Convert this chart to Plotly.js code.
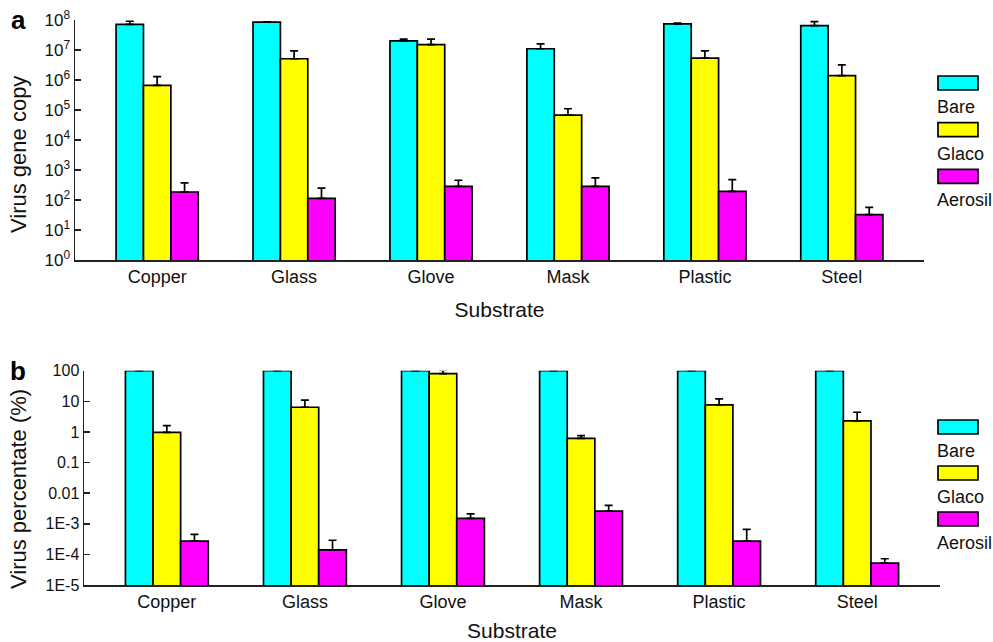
<!DOCTYPE html>
<html>
<head>
<meta charset="utf-8">
<script src="https://cdn.plot.ly/plotly-3.0.1.min.js"></script>
<style>html,body{margin:0;padding:0;background:#fff;}#chart{width:993px;height:642px;}</style>
</head>
<body>
<div id="chart"></div>
<script>
// ---- data ----
const substrates = ["Copper", "Glass", "Glove", "Mask", "Plastic", "Steel"];
const seriesNames = ["Bare", "Glaco", "Aerosil"];
const seriesColors = ["#00ffff", "#ffff00", "#ff00ff"];

// Panel a: virus gene copy
const copyBare      = [7.2e7, 8.5e7, 2.0e7, 1.1e7, 7.4e7, 6.5e7];
const copyBareErr   = [1.9e7, 2.0e6, 3.0e6, 5.0e6, 5.0e6, 2.3e7];
const copyGlaco     = [6.6e5, 5.1e6, 1.5e7, 6.7e4, 5.4e6, 1.4e6];
const copyGlacoErr  = [6.4e5, 4.2e6, 8.0e6, 4.3e4, 3.9e6, 1.8e6];
const copyAerosil   = [185, 114, 286, 286, 195, 32.5];
const copyAerosilErr= [185, 136, 169, 264, 280, 24.5];

// Panel b: virus percentage (%)
const pctBare       = [100, 100, 100, 100, 100, 100];
const pctBareErr    = [0, 0, 0, 0, 0, 0];
const pctGlaco      = [0.97, 6.4, 80, 0.62, 7.6, 2.3];
const pctGlacoErr   = [0.63, 4.6, 25, 0.14, 4.4, 2.1];
const pctAerosil    = [2.7e-4, 1.4e-4, 1.5e-3, 2.6e-3, 2.7e-4, 5.2e-5];
const pctAerosilErr = [1.8e-4, 1.5e-4, 6.0e-4, 1.4e-3, 3.9e-4, 2.0e-5];

// tick labels
const topTickVals = [1, 10, 100, 1e3, 1e4, 1e5, 1e6, 1e7, 1e8];
const topTickText = ["10<sup>0</sup>","10<sup>1</sup>","10<sup>2</sup>","10<sup>3</sup>","10<sup>4</sup>","10<sup>5</sup>","10<sup>6</sup>","10<sup>7</sup>","10<sup>8</sup>"];
const botTickVals = [1e-5, 1e-4, 1e-3, 0.01, 0.1, 1, 10, 100];
const botTickText = ["1E-5", "1E-4", "1E-3", "0.01", "0.1", "1", "10", "100"];

const xTitle = "Substrate";
const yTitleTop = "Virus gene copy";
const yTitleBot = "Virus percentate (%)";

// ---- build ----
const FONT = "Liberation Sans, Arial, sans-serif";
const W = 993, H = 642;
const px = v => v / W, py = v => 1 - v / H;

function mk(name, color, y, err, xa, ya) {
  return {
    type: "bar", name: name, x: substrates, y: y, xaxis: xa, yaxis: ya,
    marker: {color: color, line: {color: "#000", width: 1.7}},
    error_y: {type: "data", symmetric: false, array: err, arrayminus: err.map(() => 0),
              visible: true, color: "#000", thickness: 1.7, width: 4},
    showlegend: false, hoverinfo: "x+y"
  };
}

const topY = [copyBare, copyGlaco, copyAerosil];
const topE = [copyBareErr, copyGlacoErr, copyAerosilErr];
const botY = [pctBare, pctGlaco, pctAerosil];
const botE = [pctBareErr, pctGlacoErr, pctAerosilErr];

const data = [];
for (let i = 0; i < 3; i++) data.push(mk(seriesNames[i], seriesColors[i], topY[i], topE[i], "x", "y"));
for (let i = 0; i < 3; i++) data.push(mk(seriesNames[i], seriesColors[i], botY[i], botE[i], "x2", "y2"));

const axisCommon = {showgrid: false, zeroline: false, showline: true, linecolor: "#222", linewidth: 1.5};

const shapes = [], annotations = [];
function legendBlock(topBox, spacing) {
  for (let i = 0; i < 3; i++) {
    const y0 = topBox + i * spacing;
    shapes.push({type: "rect", xref: "paper", yref: "paper",
      x0: px(938), x1: px(978), y0: py(y0 + 14), y1: py(y0),
      fillcolor: seriesColors[i], line: {color: "#000", width: 1.7}});
    annotations.push({xref: "paper", yref: "paper", x: px(935), y: py(y0 + 31),
      text: seriesNames[i], showarrow: false, xanchor: "left", yanchor: "middle",
      font: {family: FONT, size: 18, color: "#111"}});
  }
}
legendBlock(76, 46.7);
legendBlock(420, 46);

annotations.push({xref: "paper", yref: "paper", x: px(18), y: py(20), text: "<b>a</b>",
  showarrow: false, xanchor: "center", yanchor: "middle", font: {family: FONT, size: 26, color: "#000"}});
annotations.push({xref: "paper", yref: "paper", x: px(18), y: py(371), text: "<b>b</b>",
  showarrow: false, xanchor: "center", yanchor: "middle", font: {family: FONT, size: 26, color: "#000"}});
// y-axis titles (placed to match the reference offset along the axis)
annotations.push({xref: "paper", yref: "paper", x: px(19), y: py(155), text: yTitleTop, textangle: -90,
  showarrow: false, xanchor: "center", yanchor: "middle", font: {family: FONT, size: 22, color: "#111"}});
annotations.push({xref: "paper", yref: "paper", x: px(18), y: py(489), text: yTitleBot, textangle: -90,
  showarrow: false, xanchor: "center", yanchor: "middle", font: {family: FONT, size: 22, color: "#111"}});

const layout = {
  width: W, height: H,
  margin: {l: 0, r: 0, t: 0, b: 0},
  paper_bgcolor: "#fff", plot_bgcolor: "#fff",
  font: {family: FONT, color: "#111"},
  barmode: "group", bargap: 0.4, bargroupgap: 0,
  showlegend: false,
  xaxis: Object.assign({}, axisCommon, {
    domain: [px(75), px(924)], anchor: "y", type: "category", range: [-0.6, 5.6],
    ticks: "", tickfont: {size: 18, family: FONT, color: "#111"},
    title: {text: xTitle, font: {size: 21, family: FONT, color: "#111"}, standoff: 16}
  }),
  yaxis: Object.assign({}, axisCommon, {
    domain: [py(260), py(20)], anchor: "x", type: "log", range: [0, 8],
    tickvals: topTickVals, ticktext: topTickText, ticks: "inside", ticklen: 6, tickwidth: 1.5, tickcolor: "#222",
    tickfont: {size: 17, family: FONT, color: "#111"}
  }),
  xaxis2: Object.assign({}, axisCommon, {
    domain: [px(84), px(940)], anchor: "y2", type: "category", range: [-0.6, 5.6],
    ticks: "", tickfont: {size: 18, family: FONT, color: "#111"},
    title: {text: xTitle, font: {size: 21, family: FONT, color: "#111"}, standoff: 16}
  }),
  yaxis2: Object.assign({}, axisCommon, {
    domain: [py(585), py(370.7)], anchor: "x2", type: "log", range: [-5, 2],
    tickvals: botTickVals, ticktext: botTickText, ticks: "inside", ticklen: 6, tickwidth: 1.5, tickcolor: "#222",
    tickfont: {size: 16, family: FONT, color: "#111"}
  }),
  shapes: shapes,
  annotations: annotations
};

Plotly.newPlot("chart", data, layout, {displayModeBar: false, staticPlot: true});
</script>
</body>
</html>
